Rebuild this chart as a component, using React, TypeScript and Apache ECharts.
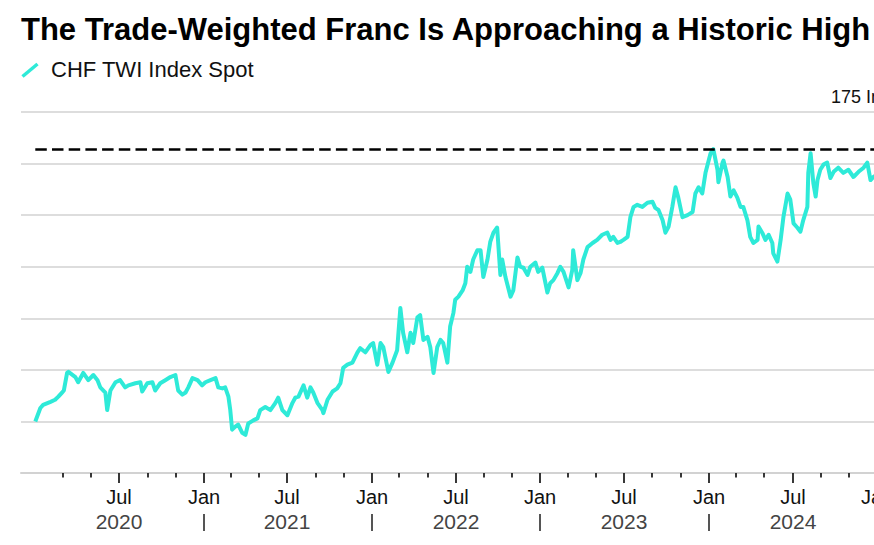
import React, { useEffect, useRef } from "react";
import * as echarts from "echarts";

const TITLE = "The Trade-Weighted Franc Is Approaching a Historic High";
const SERIES_NAME = "CHF TWI Index Spot";
const HISTORIC_HIGH = 171.4;

const dates: string[] = [
  "2020-01-01","2020-01-12","2020-01-18","2020-02-03","2020-02-13","2020-02-20","2020-02-28","2020-03-03","2020-03-10","2020-03-13",
  "2020-03-28","2020-04-03","2020-04-14","2020-04-25","2020-05-06","2020-05-15","2020-05-21","2020-06-01","2020-06-05","2020-06-12",
  "2020-06-23","2020-07-03","2020-07-14","2020-07-21","2020-08-05","2020-08-16","2020-08-20","2020-08-31","2020-09-11","2020-09-17",
  "2020-09-28","2020-10-09","2020-10-20","2020-10-31","2020-11-06","2020-11-15","2020-11-22","2020-11-28","2020-12-07","2020-12-18",
  "2020-12-28","2021-01-04","2021-01-15","2021-01-26","2021-02-01","2021-02-10","2021-02-16","2021-02-23","2021-02-27","2021-03-03",
  "2021-03-10","2021-03-16","2021-03-25","2021-04-01","2021-04-07","2021-04-18","2021-04-27","2021-05-03","2021-05-14","2021-05-25",
  "2021-06-05","2021-06-11","2021-06-20","2021-07-01","2021-07-12","2021-07-18","2021-07-25","2021-08-05","2021-08-13","2021-08-20",
  "2021-08-26","2021-09-04","2021-09-15","2021-09-17","2021-09-26","2021-10-07","2021-10-17","2021-10-24","2021-10-30","2021-11-08",
  "2021-11-19","2021-11-30","2021-12-06","2021-12-17","2021-12-28","2022-01-03","2022-01-12","2022-01-19","2022-01-25","2022-02-05",
  "2022-02-14","2022-02-24","2022-03-03","2022-03-09","2022-03-18","2022-03-25","2022-03-31","2022-04-09","2022-04-15","2022-04-22",
  "2022-05-01","2022-05-07","2022-05-14","2022-05-22","2022-05-29","2022-06-04","2022-06-13","2022-06-19","2022-06-26","2022-06-30",
  "2022-07-07","2022-07-16","2022-07-22","2022-07-26","2022-08-02","2022-08-08","2022-08-17","2022-08-24","2022-08-30","2022-09-08",
  "2022-09-14","2022-09-21","2022-09-29","2022-10-06","2022-10-10","2022-10-17","2022-10-28","2022-11-03","2022-11-12","2022-11-18",
  "2022-11-25","2022-12-04","2022-12-10","2022-12-21","2022-12-27","2023-01-05","2023-01-16","2023-01-22","2023-01-29","2023-02-07",
  "2023-02-13","2023-02-20","2023-03-03","2023-03-11","2023-03-13","2023-03-22","2023-03-29","2023-04-04","2023-04-13","2023-04-24",
  "2023-05-04","2023-05-15","2023-05-26","2023-06-02","2023-06-08","2023-06-17","2023-06-23","2023-06-30","2023-07-09","2023-07-15",
  "2023-07-22","2023-07-30","2023-08-10","2023-08-21","2023-09-01","2023-09-07","2023-09-14","2023-09-23","2023-09-29","2023-10-06",
  "2023-10-14","2023-10-21","2023-10-27","2023-11-05","2023-11-16","2023-11-27","2023-12-03","2023-12-10","2023-12-18","2023-12-25",
  "2024-01-05","2024-01-11","2024-01-20","2024-01-22","2024-01-31","2024-02-02","2024-02-11","2024-02-17","2024-02-24","2024-03-03",
  "2024-03-10","2024-03-16","2024-03-25","2024-03-31","2024-04-07","2024-04-16","2024-04-18","2024-04-26","2024-05-03","2024-05-10",
  "2024-05-18","2024-05-20","2024-05-29","2024-06-05","2024-06-11","2024-06-20","2024-06-26","2024-07-03","2024-07-11","2024-07-18",
  "2024-07-24","2024-08-02","2024-08-04","2024-08-09","2024-08-15","2024-08-20","2024-08-24","2024-08-30","2024-09-06","2024-09-14",
  "2024-09-21","2024-09-28","2024-10-08","2024-10-19","2024-10-30","2024-11-10","2024-11-21","2024-12-02","2024-12-10","2024-12-17",
  "2024-12-23","2024-12-31"
];

const values: number[] = [
  145.0,146.3,146.6,146.9,147.1,147.4,147.8,148.0,149.7,149.8,
  149.3,148.8,149.7,149.0,149.5,149.0,148.3,147.8,146.1,148.0,
  148.8,149.0,148.3,148.5,148.7,148.8,147.9,148.7,148.8,148.0,
  148.7,149.0,149.3,149.5,148.0,147.6,147.8,148.3,149.2,149.0,
  148.5,148.8,149.0,149.2,148.3,148.2,148.3,147.4,146.1,144.2,
  144.5,144.7,143.9,143.7,144.8,145.1,145.3,146.1,146.4,146.1,
  146.8,147.3,146.1,145.6,146.8,147.3,147.4,148.5,147.3,148.3,
  147.8,146.8,146.1,145.8,147.1,147.9,148.2,148.7,150.2,150.5,
  150.7,151.7,152.1,151.7,152.4,152.6,150.5,152.6,152.2,149.8,
  150.7,151.9,156.0,153.6,151.7,153.6,152.6,155.1,155.3,152.9,
  153.2,152.2,149.7,152.2,152.9,152.6,150.7,154.2,155.5,156.8,
  157.1,157.7,158.4,160.0,159.5,160.7,161.6,161.6,159.0,160.7,
  162.4,163.3,163.8,159.2,160.7,159.0,157.1,157.7,160.9,160.0,
  159.9,159.2,160.0,160.4,159.5,159.9,157.5,158.4,158.7,159.4,
  160.0,159.5,158.0,159.7,161.6,158.7,159.4,160.7,161.9,162.3,
  162.6,163.1,163.3,162.6,162.9,162.3,162.4,162.6,162.9,164.8,
  165.8,166.0,165.8,166.2,166.3,165.7,165.5,164.5,163.3,163.9,
  165.8,167.7,166.7,164.8,165.0,165.3,167.1,167.7,167.1,169.1,
  171.0,171.4,169.4,168.2,170.1,170.3,168.7,166.8,167.4,166.7,
  165.8,165.8,164.5,162.9,162.3,162.6,163.9,163.3,162.6,163.1,
  162.3,161.3,160.5,162.6,164.8,167.1,166.5,164.2,163.8,163.4,
  164.5,165.8,169.1,171.0,168.1,166.8,168.4,169.4,169.9,170.1,
  168.6,169.2,169.6,169.1,169.4,168.7,169.2,169.6,170.1,168.4,
  168.7,168.9
];

const yearLabels: string[] = ["2020", "2021", "2022", "2023", "2024"];
const tickYears: number[] = [2020, 2021, 2022, 2023, 2024, 2025];
const tickMonths: number[] = [1, 3, 5, 7, 9, 11];
const Y_TOP_LABEL = "175 Index";
const X_MIN = "2019-12-01";
const X_MAX = "2025-03-17";
const X_FIRST_TICK = "2020-03-01";
const X_LAST_TICK = "2025-01-01";

const TEAL = "#2EEAD8";
const FONT = "'Liberation Sans', Arial, Helvetica, sans-serif";

export default function App() {
  const ref = useRef<HTMLDivElement>(null);

  useEffect(() => {
    if (!ref.current) return;
    const chart = echarts.init(ref.current, undefined, { renderer: "svg" });

    const ticks: [string, number, string][] = [];
    const first = new Date(X_FIRST_TICK).getTime();
    const last = new Date(X_LAST_TICK).getTime();
    tickYears.forEach((y) => {
      tickMonths.forEach((m) => {
        const d = `${y}-${String(m).padStart(2, "0")}-01`;
        const t = new Date(d).getTime();
        if (t < first || t > last) return;
        const kind = m === 1 ? 1 : m === 7 ? 2 : 0;
        const yl = m === 7 ? yearLabels[tickYears.indexOf(y)] || "" : "";
        ticks.push([d, kind, yl]);
      });
    });

    const option: any = {
      animation: false,
      backgroundColor: "#ffffff",
      grid: {
        left: 21,
        right: 18,
        top: 112,
        bottom: 72,
        containLabel: false,
        outerBoundsMode: "none",
      },
      xAxis: {
        type: "time",
        min: X_MIN,
        max: X_MAX,
        axisLine: { show: true, lineStyle: { color: "#d2d2d2", width: 2 } },
        axisTick: { show: false },
        axisLabel: { show: false },
        splitLine: { show: false },
      },
      yAxis: {
        type: "value",
        position: "right",
        min: 140,
        max: 175,
        interval: 5,
        axisLine: { show: false },
        axisTick: { show: false },
        splitLine: { show: true, lineStyle: { color: "#d2d2d2", width: 1.5 } },
        axisLabel: {
          inside: true,
          showMaxLabel: true,
          align: "right",
          verticalAlign: "bottom",
          margin: 2,
          padding: [0, 0, 6, 0],
          color: "#111",
          fontSize: 18,
          fontFamily: FONT,
          formatter: (v: number) => (v === 175 ? Y_TOP_LABEL : ""),
        },
      },
      graphic: [
        {
          type: "text",
          left: 21,
          top: 14,
          style: {
            text: TITLE,
            font: `bold 31px ${FONT}`,
            fill: "#000",
          },
        },
        {
          type: "line",
          shape: { x1: 22.5, y1: 76.5, x2: 37.5, y2: 64 },
          style: { stroke: TEAL, lineWidth: 3.5 },
        },
        {
          type: "text",
          left: 51,
          top: 58,
          style: {
            text: SERIES_NAME,
            font: `22px ${FONT}`,
            fill: "#111",
          },
        },
      ],
      series: [
        {
          name: SERIES_NAME,
          type: "line",
          data: dates.map((d, i) => [d, values[i]]),
          showSymbol: false,
          symbol: "none",
          lineStyle: { color: TEAL, width: 4, join: "round" },
          z: 3,
          markLine: {
            silent: true,
            symbol: ["none", "none"],
            label: { show: false },
            lineStyle: { color: "#000", width: 2.5, type: [11.5, 5.2] },
            data: [
              [
                { coord: [dates[0], HISTORIC_HIGH] },
                { coord: [X_MAX, HISTORIC_HIGH] },
              ],
            ],
          },
        },
        {
          type: "custom",
          silent: true,
          clip: false,
          z: 5,
          data: ticks,
          encode: { x: 0 },
          renderItem: (params: any, api: any) => {
            const t = api.value(0);
            const kind = api.value(1);
            const idx = params.dataIndex;
            const yl = ticks[idx][2];
            const p = api.coord([t, 140]);
            const x = Math.round(p[0]);
            const y0 = p[1];
            const children: any[] = [
              {
                type: "line",
                shape: { x1: x, y1: y0, x2: x, y2: y0 + (kind === 0 ? 4.5 : 10) },
                style: { stroke: "#222", lineWidth: 1.8 },
              },
            ];
            if (kind === 1 || kind === 2) {
              children.push({
                type: "text",
                style: {
                  text: kind === 1 ? "Jan" : "Jul",
                  x,
                  y: y0 + 24,
                  align: "center",
                  verticalAlign: "middle",
                  fontSize: 20,
                  fontFamily: FONT,
                  fill: "#111",
                },
              });
            }
            if (kind === 2 && yl) {
              children.push({
                type: "text",
                style: {
                  text: yl,
                  x,
                  y: y0 + 48,
                  align: "center",
                  verticalAlign: "middle",
                  fontSize: 21,
                  fontFamily: FONT,
                  fill: "#444",
                },
              });
            }
            if (kind === 1) {
              children.push({
                type: "line",
                shape: { x1: x, y1: y0 + 41, x2: x, y2: y0 + 58 },
                style: { stroke: "#555", lineWidth: 2 },
              });
            }
            return { type: "group", children };
          },
        },
      ],
    };

    chart.setOption(option);
    return () => chart.dispose();
  }, []);

  return (
    <div
      style={{
        position: "absolute",
        left: 0,
        top: 0,
        width: 874,
        height: 545,
        overflow: "hidden",
        background: "#fff",
      }}
    >
      <div ref={ref} style={{ width: 930, height: 545 }} />
    </div>
  );
}
